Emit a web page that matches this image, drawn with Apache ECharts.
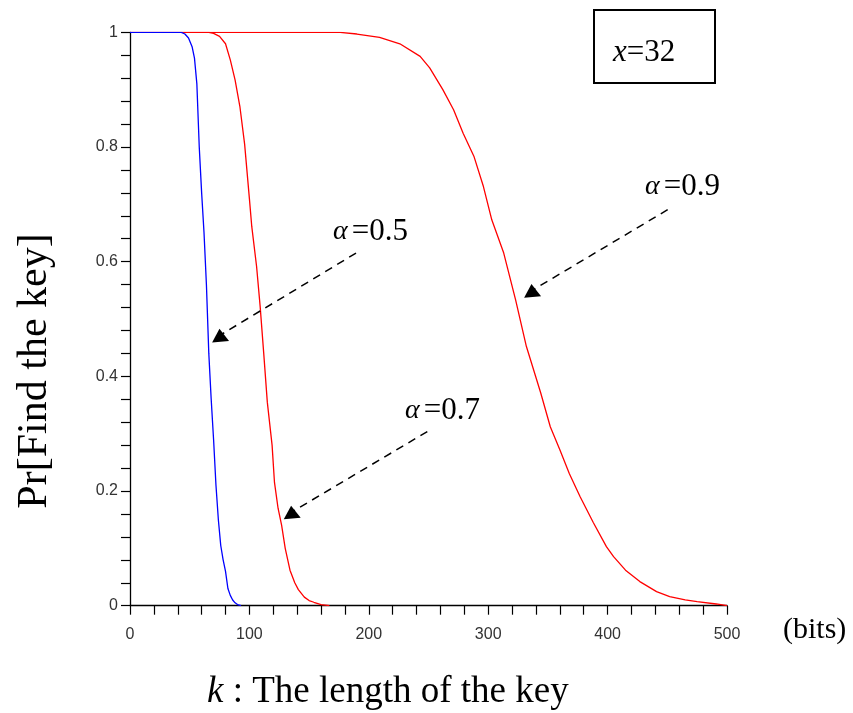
<!DOCTYPE html>
<html>
<head>
<meta charset="utf-8">
<script src="https://cdn.jsdelivr.net/npm/echarts@6/dist/echarts.min.js"></script>
<style>
html,body{margin:0;padding:0;background:#fff;}
#chart{width:853px;height:713px;}
</style>
</head>
<body>
<div id="chart"></div>
<script>
// ---- data ----
const xTicks = [0, 100, 200, 300, 400, 500];
const yTicks = [0, 0.2, 0.4, 0.6, 0.8, 1];

const kA05 = [0, 40, 43, 46, 49, 52, 54, 56, 58, 60, 62, 64, 66, 68, 70, 72, 74, 76, 78, 80, 82, 84, 86, 88, 90, 93];
const pA05 = [1, 1, 1, 0.997, 0.99, 0.975, 0.955, 0.91, 0.8, 0.72, 0.65, 0.56, 0.44, 0.36, 0.29, 0.21, 0.15, 0.105, 0.08, 0.06, 0.03, 0.018, 0.01, 0.005, 0.002, 0];

const kA07 = [0, 66, 70, 75, 80, 84, 88, 92, 96, 100, 102, 106, 109, 112, 115, 119, 121, 124, 127, 130, 134, 138, 141, 146, 150, 154, 160, 167];
const pA07 = [1, 1, 0.998, 0.993, 0.98, 0.952, 0.917, 0.871, 0.805, 0.71, 0.661, 0.592, 0.522, 0.44, 0.355, 0.28, 0.215, 0.17, 0.14, 0.1, 0.062, 0.04, 0.028, 0.015, 0.009, 0.006, 0.002, 0];

const kA09 = [0, 176, 190, 209, 226, 243, 251, 262, 271, 279, 288, 296, 303, 313, 323, 332, 344, 352, 360, 368, 377, 388, 399, 405, 415, 427, 441, 452, 465, 475, 491, 500];
const pA09 = [1, 1, 0.997, 0.991, 0.98, 0.958, 0.938, 0.9, 0.865, 0.824, 0.784, 0.731, 0.673, 0.615, 0.533, 0.452, 0.371, 0.312, 0.272, 0.23, 0.19, 0.145, 0.103, 0.0855, 0.062, 0.042, 0.0245, 0.016, 0.01, 0.007, 0.003, 0];

// annotation arrows: [start k, start p], [head k, head p]
const arrowA05 = [[189.3, 0.615], [75.4, 0.4716]];
const arrowA07 = [[249.0, 0.3037], [135.4, 0.1632]];
const arrowA09 = [[450.3, 0.6906], [336.7, 0.5497]];

const labelA05 = '=0.5', labelA07 = '=0.7', labelA09 = '=0.9';

function zip(a, b) { return a.map((v, i) => [v, b[i]]); }

const chart = echarts.init(document.getElementById('chart'), null, {renderer: 'canvas'});

function arrow(a) {
  return {
    markLine: {
      silent: true,
      symbol: ['none', 'none'],
      lineStyle: {color: '#000', type: [8, 6], width: 1.5},
      label: {show: false},
      data: [[{coord: a[0]}, {coord: a[1]}]]
    },
    markPoint: {
      silent: true,
      symbol: 'triangle',
      symbolSize: [17, 13],
      symbolRotate: 5,
      itemStyle: {color: '#000'},
      label: {show: false},
      data: [{coord: a[1]}]
    }
  };
}

const axisCommon = {
  type: 'value',
  axisLine: {show: true, lineStyle: {color: '#000', width: 1.3}},
  axisTick: {show: true, length: 9, lineStyle: {color: '#000', width: 1.2}},
  minorTick: {show: true, splitNumber: 5, length: 9, lineStyle: {color: '#000', width: 1.2}},
  splitLine: {show: false},
  minorSplitLine: {show: false},
  axisLabel: {fontFamily: 'Liberation Sans', fontSize: 16, color: '#333'}
};

const serif = 'Liberation Serif';

function alphaLabel(x, y, txt) {
  return {type: 'text', x: x, y: y, style: {
    text: '{i|α}{n|' + txt + '}', verticalAlign: 'middle', align: 'left',
    rich: {i: {fontFamily: serif, fontStyle: 'italic', fontSize: 28, fill: '#000', padding: [0, 4, 0, 0]},
           n: {fontFamily: serif, fontSize: 31, fill: '#000'}}}};
}

chart.setOption({
  animation: false,
  backgroundColor: '#fff',
  grid: {left: 130, right: 126, top: 32.3, bottom: 107.3},
  xAxis: Object.assign({}, axisCommon, {
    min: xTicks[0], max: xTicks[xTicks.length - 1], interval: 100,
    axisLabel: Object.assign({}, axisCommon.axisLabel, {margin: 21})
  }),
  yAxis: Object.assign({}, axisCommon, {
    min: yTicks[0], max: yTicks[yTicks.length - 1], interval: 0.2,
    axisLabel: Object.assign({}, axisCommon.axisLabel, {
      margin: 12,
      formatter: v => (v === 0 ? '0' : (v === 1 ? '1' : v.toFixed(1)))
    })
  }),
  series: [
    Object.assign({
      name: 'α=0.9', type: 'line', showSymbol: false, data: zip(kA09, pA09),
      lineStyle: {color: '#ff0000', width: 1.3}, itemStyle: {color: '#ff0000'}, z: 2
    }, arrow(arrowA09)),
    Object.assign({
      name: 'α=0.7', type: 'line', showSymbol: false, data: zip(kA07, pA07),
      lineStyle: {color: '#ff0000', width: 1.3}, itemStyle: {color: '#ff0000'}, z: 2
    }, arrow(arrowA07)),
    Object.assign({
      name: 'α=0.5', type: 'line', showSymbol: false, data: zip(kA05, pA05),
      lineStyle: {color: '#0000ff', width: 1.3}, itemStyle: {color: '#0000ff'}, z: 3
    }, arrow(arrowA05))
  ],
  graphic: [
    {type: 'rect', shape: {x: 594, y: 10, width: 121, height: 73},
     style: {fill: 'none', stroke: '#000', lineWidth: 2}},
    {type: 'text', x: 613, y: 53, style: {
      text: '{i|x}{n|=32}', verticalAlign: 'middle', align: 'left',
      rich: {i: {fontFamily: serif, fontStyle: 'italic', fontSize: 31, fill: '#000'},
             n: {fontFamily: serif, fontSize: 31, fill: '#000'}}}},
    alphaLabel(333, 232, labelA05),
    alphaLabel(405, 410.5, labelA07),
    alphaLabel(645, 186.7, labelA09),
    {type: 'text', x: 783, y: 630, style: {
      text: '(bits)', font: '30px "Liberation Serif"', fill: '#000', verticalAlign: 'middle', align: 'left'}},
    {type: 'text', x: 207, y: 692.6, style: {
      text: '{i|k}{n| : The length of the key}', verticalAlign: 'middle', align: 'left',
      rich: {i: {fontFamily: serif, fontStyle: 'italic', fontSize: 37, fill: '#000'},
             n: {fontFamily: serif, fontSize: 37, fill: '#000'}}}},
    {type: 'text', x: 35, y: 371, rotation: Math.PI / 2, style: {
      text: 'Pr[Find the key]', font: '42px "Liberation Serif"', fill: '#000',
      verticalAlign: 'middle', align: 'center'}}
  ]
});
</script>
</body>
</html>
